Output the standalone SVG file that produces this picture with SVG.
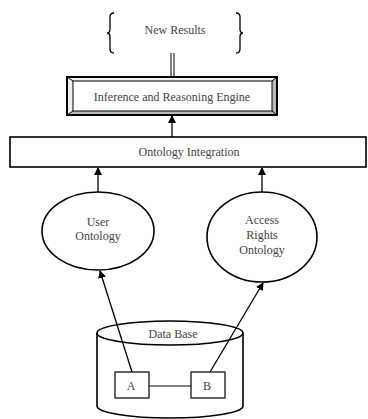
<svg xmlns="http://www.w3.org/2000/svg" width="368" height="419" viewBox="0 0 368 419">
<style>
text{font-family:"Liberation Serif","Times New Roman",serif;font-size:12px;fill:#444;text-anchor:middle}
.ln{stroke:#000;stroke-width:1.3;fill:none}
.sh{stroke:#000;stroke-width:1.6;fill:#fff}
</style>
<defs>
<marker id="ah" markerWidth="8" markerHeight="8" refX="7" refY="4" orient="auto" markerUnits="userSpaceOnUse">
<path d="M0,0 L8,4 L0,8 Z" fill="#000"/>
</marker>
</defs>
<rect width="368" height="419" fill="#fff"/>
<g id="results">
<path d="M114,13 Q110,13 110,17 L110,29 Q110,33 107,33 Q110,33 110,37 L110,49 Q110,53 114,53" class="ln"/>
<path d="M236,13 Q240,13 240,17 L240,29 Q240,33 243,33 Q240,33 240,37 L240,49 Q240,53 236,53" class="ln"/>
<text x="175" y="34">New Results</text>
</g>
<g id="engine">
<rect x="67" y="77" width="210" height="38" fill="#bbb" stroke="#000" stroke-width="2"/>
<path d="M67,77 L277,77 L272,81 L73,81 L73,111 L67,115 Z" fill="#eee"/>
<rect x="73" y="81" width="199" height="30" fill="#fff" stroke="#000" stroke-width="1"/>
<path d="M67,77 L73,81 M277,77 L272,81 M67,115 L73,111 M277,115 L272,111" stroke="#000" stroke-width="1"/>
<rect x="67" y="77" width="210" height="38" fill="none" stroke="#000" stroke-width="2"/>
<text x="172" y="101">Inference and Reasoning Engine</text>
</g>
<g id="integration">
<rect x="10" y="137" width="356" height="30" class="sh"/>
<text x="189" y="156">Ontology Integration</text>
</g>
<g id="user-ontology">
<ellipse cx="98" cy="231" rx="56" ry="39" class="sh"/>
<text x="98" y="226">User</text>
<text x="98" y="240">Ontology</text>
</g>
<g id="access-ontology">
<ellipse cx="262" cy="237" rx="55" ry="45" class="sh"/>
<text x="262" y="224">Access</text>
<text x="262" y="239">Rights</text>
<text x="262" y="254">Ontology</text>
</g>
<g id="database">
<path d="M97,333 L97,406 A73,12 0 0 0 243,406 L243,333" class="sh"/>
<ellipse cx="170" cy="333" rx="73" ry="12" class="sh"/>
<text x="173" y="338">Data Base</text>
</g>
<g id="box-a">
<rect x="115" y="372" width="34" height="26" fill="#fff" stroke="#000" stroke-width="1.2"/>
<text x="131" y="390">A</text>
</g>
<g id="box-b">
<rect x="191" y="372" width="34" height="26" fill="#fff" stroke="#000" stroke-width="1.2"/>
<text x="207" y="390">B</text>
</g>
<g id="connectors">
<path d="M171,53 L171,77 M174,53 L174,77" stroke="#000" stroke-width="1"/>
<line x1="172" y1="137" x2="172" y2="116" class="ln" marker-end="url(#ah)"/>
<line x1="98" y1="192" x2="98" y2="168" class="ln" marker-end="url(#ah)"/>
<line x1="262" y1="192" x2="262" y2="168" class="ln" marker-end="url(#ah)"/>
<line x1="132" y1="372" x2="100" y2="271" class="ln" marker-end="url(#ah)"/>
<line x1="210" y1="372" x2="263" y2="283" class="ln" marker-end="url(#ah)"/>
<line x1="149" y1="386" x2="191" y2="386" stroke="#000" stroke-width="1"/>
</g>
</svg>
